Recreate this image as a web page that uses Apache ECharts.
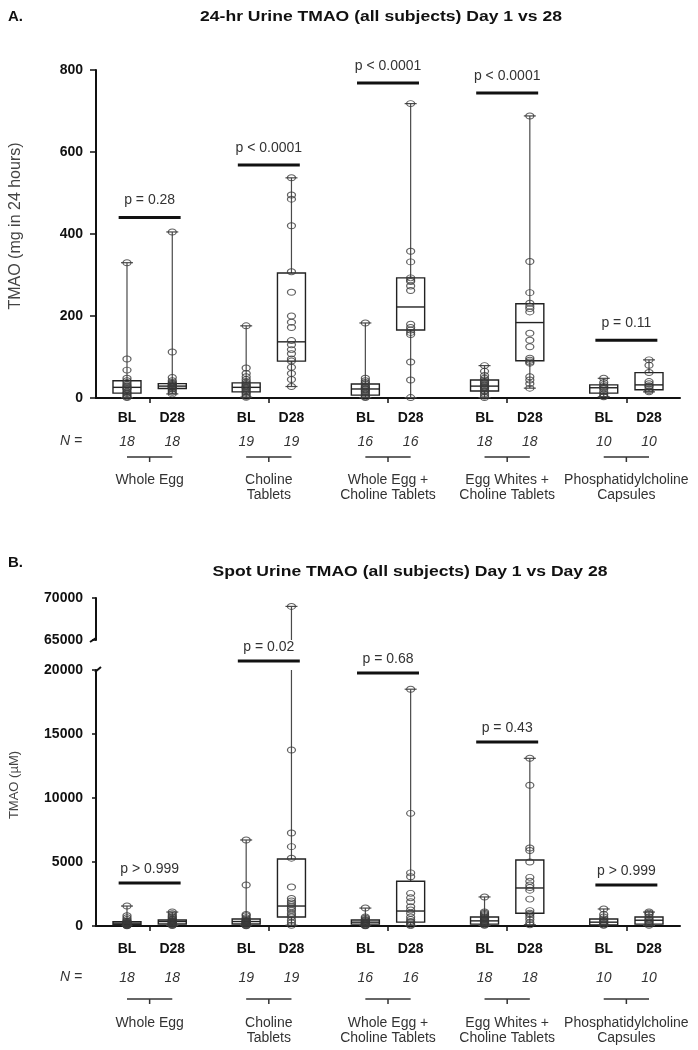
<!DOCTYPE html>
<html><head><meta charset="utf-8">
<script src="https://cdn.jsdelivr.net/npm/echarts@6/dist/echarts.min.js"></script>
<style>html,body{margin:0;padding:0;background:#fff}#c{width:698px;height:1050px}</style>
</head><body><div id="c"></div>
<script>
// ---------------- DATA ----------------
const groups = ['Whole Egg', 'Choline\nTablets', 'Whole Egg +\nCholine Tablets', 'Egg Whites +\nCholine Tablets', 'Phosphatidylcholine\nCapsules'];
const timepoints = ['BL', 'D28'];
const nPerGroup = [18, 19, 16, 18, 10];

// Panel A: 24-hr urine TMAO (mg in 24 hours)
const aTicks = [0, 200, 400, 600, 800];
// [min, Q1, median, Q3, max] for BL/D28 of each group
const aBoxStats = [
  [1, 12, 26, 42, 330], [10, 23, 29, 35, 405],
  [2, 15, 26, 37, 176], [28, 90, 137, 305, 537],
  [1, 7, 22, 34, 183], [1, 166, 222, 293, 718],
  [1, 17, 29, 44, 79], [24, 91, 184, 230, 688],
  [3, 12, 25, 32, 48], [15, 20, 32, 62, 93]
];
const aPoints = [
  [330, 95, 68, 48, 42, 38, 33, 30, 27, 25, 22, 20, 15, 12, 10, 6, 3, 1],
  [405, 112, 50, 42, 38, 35, 33, 31, 30, 29, 28, 27, 26, 24, 22, 18, 14, 10],
  [176, 73, 60, 52, 45, 40, 36, 33, 30, 28, 26, 24, 22, 18, 15, 12, 8, 4, 2],
  [537, 495, 485, 420, 308, 258, 200, 185, 172, 140, 130, 118, 108, 95, 90, 75, 60, 45, 28],
  [183, 48, 42, 38, 34, 30, 27, 25, 22, 20, 17, 14, 10, 7, 3, 1],
  [718, 358, 332, 293, 288, 284, 273, 262, 180, 172, 166, 160, 155, 88, 44, 1],
  [79, 65, 55, 48, 44, 40, 37, 34, 31, 29, 27, 25, 22, 18, 15, 10, 5, 1],
  [688, 333, 257, 231, 224, 218, 210, 158, 141, 125, 97, 92, 88, 85, 52, 44, 35, 24],
  [48, 38, 32, 28, 25, 22, 15, 10, 5, 3],
  [93, 80, 62, 40, 35, 30, 28, 22, 18, 15]
];
const aPLabels = ['p = 0.28', 'p < 0.0001', 'p < 0.0001', 'p < 0.0001', 'p = 0.11'];
const aPBarValues = [440, 568, 768, 744, 141];

// Panel B: spot urine TMAO (µM), broken axis
const bTicksUpper = [65000, 70000];
const bTicksLower = [0, 5000, 10000, 15000, 20000];
const bBoxStats = [
  [10, 100, 220, 330, 1560], [40, 160, 350, 470, 1090],
  [10, 160, 350, 550, 6720], [60, 700, 1560, 5230, 69000],
  [10, 150, 300, 470, 1400], [30, 300, 1170, 3500, 18500],
  [50, 150, 400, 700, 2270], [100, 1000, 2970, 5160, 13100],
  [50, 80, 300, 550, 1330], [50, 150, 450, 700, 1090]
];
const bPoints = [
  [1560, 800, 650, 500, 400, 350, 300, 260, 230, 200, 180, 150, 120, 100, 80, 50, 30, 10],
  [1090, 950, 800, 700, 600, 520, 470, 420, 380, 350, 320, 280, 240, 200, 160, 120, 80, 40],
  [6720, 3200, 900, 800, 650, 550, 480, 420, 380, 350, 320, 280, 240, 200, 160, 120, 80, 40, 10],
  [69000, 13750, 7260, 6200, 5300, 3050, 2150, 1950, 1800, 1650, 1500, 1350, 1200, 1000, 850, 700, 450, 250, 60],
  [1400, 700, 600, 500, 450, 400, 350, 300, 260, 220, 180, 150, 100, 60, 30, 10],
  [18500, 8800, 4150, 3850, 2550, 2200, 1900, 1500, 1250, 1000, 700, 500, 350, 250, 100, 30],
  [2270, 1100, 1000, 900, 800, 700, 620, 560, 500, 450, 400, 350, 300, 250, 200, 150, 100, 50],
  [13100, 11000, 6100, 5900, 5000, 3800, 3500, 3200, 3000, 2800, 2100, 1200, 1000, 900, 700, 500, 250, 100],
  [1330, 900, 700, 550, 450, 350, 280, 200, 100, 50],
  [1090, 1000, 900, 700, 550, 450, 350, 250, 150, 50]
];
const bPLabels = ['p > 0.999', 'p = 0.02', 'p = 0.68', 'p = 0.43', 'p > 0.999'];
const bPBarValues = [3360, 20700, 19770, 14370, 3200];

// ---------------- RENDER ----------------
const FONT = '"Liberation Sans", Arial, Helvetica, sans-serif';
const OFF = 0.19;          // BL / D28 offset from group centre (axis units)
const PHALF = 0.26;        // half width of p-value bar
const X_MIN = -0.45, X_MAX = groups.length - 0.55;

function xPos(i) { const g = Math.floor(i / 2); return g + (i % 2 ? OFF : -OFF); }
const labelPositions = groups.flatMap((_, g) => [g - OFF, g + OFF]);
const groupPositions = groups.map((_, g) => g);
function groupOf(v) { return Math.max(0, Math.min(groups.length - 1, Math.round(v))); }

function boxData(stats) { return stats.map((s, i) => [xPos(i)].concat(s)); }
function pointData(pts) {
  const out = [];
  pts.forEach((arr, i) => arr.forEach(v => out.push([xPos(i), v])));
  return out;
}

function renderBox(params, api) {
  const x = api.value(0);
  const pMin = api.coord([x, api.value(1)]);
  const pQ1 = api.coord([x, api.value(2)]);
  const pMed = api.coord([x, api.value(3)]);
  const pQ3 = api.coord([x, api.value(4)]);
  const pMax = api.coord([x, api.value(5)]);
  const cx = pMin[0], hw = 14, cw = 6;
  const wStyle = { stroke: '#4a4a4a', lineWidth: 1.2 };
  const bStyle = { stroke: '#222', lineWidth: 1.4, fill: 'none' };
  return {
    type: 'group', children: [
      { type: 'line', shape: { x1: cx, y1: pMax[1], x2: cx, y2: pQ3[1] }, style: wStyle },
      { type: 'line', shape: { x1: cx, y1: pQ1[1], x2: cx, y2: pMin[1] }, style: wStyle },
      { type: 'line', shape: { x1: cx - cw, y1: pMax[1], x2: cx + cw, y2: pMax[1] }, style: wStyle },
      { type: 'line', shape: { x1: cx - cw, y1: pMin[1], x2: cx + cw, y2: pMin[1] }, style: wStyle },
      { type: 'rect', shape: { x: cx - hw, y: pQ3[1], width: hw * 2, height: pQ1[1] - pQ3[1] }, style: bStyle },
      { type: 'line', shape: { x1: cx - hw, y1: pMed[1], x2: cx + hw, y2: pMed[1] }, style: bStyle }
    ]
  };
}

function makePRender(labels, gap) {
  return function (params, api) {
    const g = api.value(0), v = api.value(1);
    const a = api.coord([g - PHALF, v]), b = api.coord([g + PHALF, v]);
    return {
      type: 'group', children: [
        { type: 'line', shape: { x1: a[0], y1: a[1], x2: b[0], y2: b[1] }, style: { stroke: '#111', lineWidth: 3 } },
        { type: 'text', x: (a[0] + b[0]) / 2, y: a[1] - gap,
          style: { text: labels[params.dataIndex], align: 'center', verticalAlign: 'middle',
                   font: '14px ' + FONT, fill: '#333' } }
      ]
    };
  };
}

function makeGroupBracket(dy) {
  return function (params, api) {
    const g = api.value(0);
    const a = api.coord([g - OFF, api.value(1)]), b = api.coord([g + OFF, api.value(1)]);
    const y = a[1] + dy, m = (a[0] + b[0]) / 2;
    const st = { stroke: '#333', lineWidth: 1.5 };
    return {
      type: 'group', children: [
        { type: 'line', shape: { x1: a[0], y1: y, x2: b[0], y2: y }, style: st },
        { type: 'line', shape: { x1: m, y1: y, x2: m, y2: y + 5 }, style: st }
      ]
    };
  };
}

const axisLineStyle = { show: true, onZero: false, lineStyle: { color: '#111', width: 2 } };

function mainX(grid, blMargin) {
  return {
    type: 'value', gridIndex: grid, min: X_MIN, max: X_MAX, position: 'bottom',
    axisLine: axisLineStyle, splitLine: { show: false },
    axisTick: { show: true, customValues: groupPositions, length: 5, lineStyle: { color: '#111', width: 1.5 } },
    axisLabel: { customValues: labelPositions, margin: blMargin,
                 formatter: v => timepoints[v < groupOf(v) ? 0 : 1],
                 fontFamily: FONT, fontSize: 14, fontWeight: 'bold', color: '#111' }
  };
}
function nX(grid, margin) {
  return {
    type: 'value', gridIndex: grid, min: X_MIN, max: X_MAX, position: 'bottom', offset: 0,
    axisLine: { show: false, onZero: false }, axisTick: { show: false }, splitLine: { show: false },
    axisLabel: { customValues: labelPositions, margin: margin, formatter: v => String(nPerGroup[groupOf(v)]),
                 fontFamily: FONT, fontSize: 14, fontStyle: 'italic', color: '#333' }
  };
}
function groupX(grid, margin) {
  return {
    type: 'value', gridIndex: grid, min: X_MIN, max: X_MAX, position: 'bottom', offset: 0,
    axisLine: { show: false, onZero: false }, axisTick: { show: false }, splitLine: { show: false },
    axisLabel: { customValues: groupPositions, margin: margin, formatter: v => groups[groupOf(v)],
                 fontFamily: FONT, fontSize: 14, lineHeight: 15, color: '#333' }
  };
}
function yAx(grid, ticks, extra) {
  return Object.assign({
    type: 'value', gridIndex: grid, min: ticks[0], max: ticks[ticks.length - 1], interval: ticks[1] - ticks[0],
    position: 'left',
    axisLine: axisLineStyle, splitLine: { show: false },
    axisTick: { show: true, length: 6, lineStyle: { color: '#111', width: 1.5 } },
    axisLabel: { margin: 13, formatter: v => String(v), fontFamily: FONT, fontSize: 14, fontWeight: 'bold', color: '#111' }
  }, extra || {});
}

const scatterStyle = { color: 'rgba(255,255,255,0)', borderColor: '#3a3a3a', borderWidth: 1.1 };

const option = {
  animation: false,
  backgroundColor: '#fff',
  grid: [
    { left: 96, right: 18, top: 70, height: 328 },
    { left: 96, right: 18, top: 598, height: 42 },
    { left: 96, right: 18, top: 670, height: 256 }
  ],
  xAxis: [
    mainX(0, 13), nX(0, 37), groupX(0, 75),
    { type: 'value', gridIndex: 1, min: X_MIN, max: X_MAX, show: false },
    mainX(2, 16), nX(2, 45), groupX(2, 90)
  ],
  yAxis: [
    yAx(0, aTicks, { name: 'TMAO (mg in 24 hours)', nameLocation: 'middle', nameGap: 72,
      nameTextStyle: { fontFamily: FONT, fontSize: 16, color: '#444', padding: [0, 0, 0, 16] } }),
    yAx(1, bTicksUpper, { axisTick: { show: true, length: 4, lineStyle: { color: '#111', width: 1.5 } } }),
    yAx(2, bTicksLower, { name: 'TMAO (µM)', nameLocation: 'middle', nameGap: 75,
      nameTextStyle: { fontFamily: FONT, fontSize: 13, color: '#444', padding: [0, 0, 0, 26] },
      axisTick: { show: true, length: 4, lineStyle: { color: '#111', width: 1.5 } } })
  ],
  series: [
    // Panel A
    { type: 'custom', xAxisIndex: 0, yAxisIndex: 0, renderItem: renderBox, data: boxData(aBoxStats),
      encode: { x: 0, y: [1, 2, 3, 4, 5] } },
    { type: 'scatter', xAxisIndex: 0, yAxisIndex: 0, data: pointData(aPoints), symbol: 'circle',
      symbolSize: [8, 6], itemStyle: scatterStyle },
    { type: 'custom', xAxisIndex: 0, yAxisIndex: 0, renderItem: makePRender(aPLabels, 17),
      data: groups.map((_, g) => [g, aPBarValues[g]]) },
    { type: 'custom', xAxisIndex: 0, yAxisIndex: 0, renderItem: makeGroupBracket(59),
      data: groups.map((_, g) => [g, aTicks[0]]) },
    // Panel B upper segment
    { type: 'custom', xAxisIndex: 3, yAxisIndex: 1, clip: true, renderItem: renderBox, data: boxData(bBoxStats),
      encode: { x: 0, y: [1, 2, 3, 4, 5] } },
    { type: 'scatter', xAxisIndex: 3, yAxisIndex: 1, clip: true, data: pointData(bPoints), symbol: 'circle',
      symbolSize: [8, 6], itemStyle: scatterStyle },
    // Panel B lower segment
    { type: 'custom', xAxisIndex: 4, yAxisIndex: 2, clip: true, renderItem: renderBox, data: boxData(bBoxStats),
      encode: { x: 0, y: [1, 2, 3, 4, 5] } },
    { type: 'scatter', xAxisIndex: 4, yAxisIndex: 2, clip: true, data: pointData(bPoints), symbol: 'circle',
      symbolSize: [8, 6], itemStyle: scatterStyle },
    { type: 'custom', xAxisIndex: 4, yAxisIndex: 2, renderItem: makePRender(bPLabels, 14),
      data: groups.map((_, g) => [g, bPBarValues[g]]) },
    { type: 'custom', xAxisIndex: 4, yAxisIndex: 2, renderItem: makeGroupBracket(73),
      data: groups.map((_, g) => [g, bTicksLower[0]]) }
  ],
  graphic: [
    { type: 'text', left: 8, top: 9, style: { text: 'A.', font: 'bold 15px ' + FONT, fill: '#111' } },
    { type: 'text', x: 381, y: 17, scaleX: 1.17, style: { text: '24-hr Urine TMAO (all subjects) Day 1 vs 28', align: 'center', verticalAlign: 'middle', font: 'bold 15px ' + FONT, fill: '#111' } },
    { type: 'text', x: 71, y: 441, style: { text: 'N =', align: 'center', verticalAlign: 'middle', font: 'italic 14px ' + FONT, fill: '#333' } },
    { type: 'text', left: 8, top: 555, style: { text: 'B.', font: 'bold 15px ' + FONT, fill: '#111' } },
    { type: 'text', x: 410, y: 572, scaleX: 1.17, style: { text: 'Spot Urine TMAO (all subjects) Day 1 vs Day 28', align: 'center', verticalAlign: 'middle', font: 'bold 15px ' + FONT, fill: '#111' } },
    { type: 'text', x: 71, y: 977, style: { text: 'N =', align: 'center', verticalAlign: 'middle', font: 'italic 14px ' + FONT, fill: '#333' } },
    // axis break marks
    { type: 'line', shape: { x1: 96, y1: 638, x2: 90, y2: 642 }, style: { stroke: '#111', lineWidth: 2 } },
    { type: 'line', shape: { x1: 95, y1: 672, x2: 101, y2: 667 }, style: { stroke: '#111', lineWidth: 2 } }
  ]
};

const chart = echarts.init(document.getElementById('c'), null, { renderer: 'canvas' });
chart.setOption(option);
</script>
</body></html>
